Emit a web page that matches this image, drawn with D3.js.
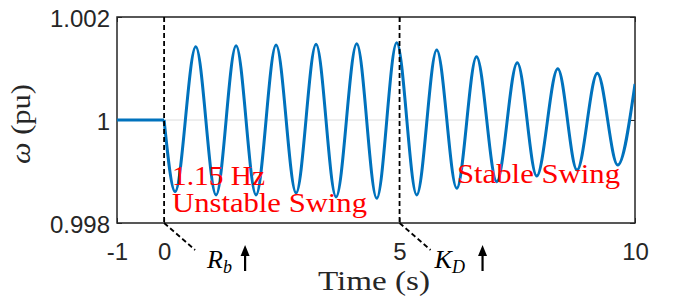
<!DOCTYPE html>
<html><head><meta charset="utf-8">
<script src="https://cdn.jsdelivr.net/npm/d3@7"></script>
<style>body{margin:0;background:#fff}svg{display:block}
.sans{font-family:"Liberation Sans",Arimo,Arial,Helvetica,sans-serif}
.serif{font-family:"Liberation Serif",Tinos,"Times New Roman","DejaVu Serif",serif}
</style>
</head><body>
<script>
// Extrema of the frequency trace (time in s, omega in pu)
const timeS = [-1, 0, 0.234, 0.673, 1.104, 1.529, 1.953, 2.378, 2.803, 3.227, 3.652, 4.091, 4.516, 4.94,
  5.365, 5.79, 6.215, 6.635, 7.064, 7.5, 7.913, 8.36, 8.769, 9.2, 9.633, 10];
const omega = [1, 1, 0.99861, 1.001423, 0.998544, 1.001443, 0.998544, 1.001456, 0.998583, 1.00147, 0.998505, 1.00148, 0.99848, 1.0015,
  0.998544, 1.001359, 0.998674, 1.001229, 0.998802, 1.001113, 0.998913, 1.000996, 0.999029, 1.000907, 0.999126, 1.0007];
const xTicks = [-1, 0, 5, 10];
const yTicks = [0.998, 1, 1.002];
const events = [0, 5];

const W = 679, H = 305;
const m = {l:117, r:44, t:17, b:82};
const svg = d3.select("body").append("svg").attr("width", W).attr("height", H);
const x = d3.scaleLinear().domain([-1, 10]).range([m.l, W - m.r]);
const y = d3.scaleLinear().domain([0.998, 1.002]).range([H - m.b, m.t]);

// grid
svg.append("g").selectAll("line").data(yTicks).join("line")
  .attr("x1", x(-1)).attr("x2", x(10)).attr("y1", d => y(d)).attr("y2", d => y(d))
  .attr("stroke", "#dcdcdc").attr("stroke-width", 1);

// axes
const gx = svg.append("g").attr("transform", `translate(0,${y(0.998)})`)
  .call(d3.axisBottom(x).tickValues(xTicks).tickSize(-5).tickPadding(20).tickFormat(d => String(d)));
const gy = svg.append("g").attr("transform", `translate(${x(-1)},0)`)
  .call(d3.axisLeft(y).tickValues(yTicks).tickSize(-5).tickPadding(7).tickFormat(d => d === 1 ? "1" : d3.format(".3f")(d)));
const gyr = svg.append("g").attr("transform", `translate(${x(10)},0)`)
  .call(d3.axisRight(y).tickValues(yTicks).tickSize(-5).tickFormat(""));
const gxt = svg.append("g").attr("transform", `translate(0,${y(1.002)})`)
  .call(d3.axisTop(x).tickValues(xTicks).tickSize(-5).tickFormat(""));
[gx, gy, gyr, gxt].forEach(g => {
  g.attr("font-family", null).attr("font-size", null);
  g.select(".domain").remove();
  g.selectAll("line").attr("stroke", "#262626");
  g.selectAll("text").attr("class", "sans").attr("fill", "#262626").style("font-size", "24px");
});
gy.selectAll("text").attr("dy", "0.38em");

// box
svg.append("rect").attr("x", x(-1)).attr("y", y(1.002)).attr("width", x(10) - x(-1)).attr("height", y(0.998) - y(1.002))
  .attr("fill", "none").attr("stroke", "#262626").attr("stroke-width", 1.5);

// trace
const pts = timeS.map((t, i) => [t, omega[i]]);
const line = d3.line().x(d => x(d[0])).y(d => y(d[1])).curve(d3.curveMonotoneX);
svg.append("clipPath").attr("id", "clip").append("rect")
  .attr("x", x(-1)).attr("y", y(1.002)).attr("width", x(10) - x(-1)).attr("height", y(0.998) - y(1.002));
const gt = svg.append("g").attr("clip-path", "url(#clip)");
gt.append("path").attr("d", line(pts.filter(p => p[0] <= 0)))
  .attr("fill", "none").attr("stroke", "#0072BD").attr("stroke-width", 3);
gt.append("path").attr("d", line(pts.filter(p => p[0] >= 0)))
  .attr("fill", "none").attr("stroke", "#0072BD").attr("stroke-width", 3).attr("stroke-linejoin", "round");

// event lines
events.forEach(e => {
  svg.append("line").attr("x1", x(e)).attr("x2", x(e)).attr("y1", y(1.002)).attr("y2", y(0.998))
    .attr("stroke", "#000").attr("stroke-width", 1.8).attr("stroke-dasharray", "5,3");
  svg.append("line").attr("x1", x(e)).attr("x2", x(e) + 31).attr("y1", y(0.998)).attr("y2", y(0.998) + 27)
    .attr("stroke", "#000").attr("stroke-width", 1.8).attr("stroke-dasharray", "5,3");
});

// arrows and parameter labels
[[x(0) + 81, "R", "b", x(0) + 43], [x(5) + 83, "K", "D", x(5) + 35]].forEach(([ax, main, sub, tx]) => {
  svg.append("line").attr("x1", ax).attr("x2", ax).attr("y1", 271).attr("y2", 254)
    .attr("stroke", "#000").attr("stroke-width", 2.2);
  svg.append("path").attr("d", `M${ax - 4.5},${256} L${ax},${245} L${ax + 4.5},${256} Z`).attr("fill", "#000");
  const t = svg.append("text").attr("class", "serif").attr("x", tx).attr("y", 268).style("font-style", "italic").style("font-size", "26px");
  t.append("tspan").text(main);
  t.append("tspan").attr("dy", 5).style("font-size", "18px").text(sub);
});

// axis labels
svg.append("text").attr("class", "serif").attr("x", 318).attr("y", 290)
  .attr("textLength", 112).attr("lengthAdjust", "spacingAndGlyphs")
  .style("font-size", "27px").attr("fill", "#262626").text("Time (s)");
const yl = svg.append("text").attr("class", "serif").attr("transform", "translate(30,164) rotate(-90)")
  .attr("textLength", 80).attr("lengthAdjust", "spacingAndGlyphs")
  .style("font-size", "27px").attr("fill", "#262626");
yl.append("tspan").style("font-style", "italic").text("ω");
yl.append("tspan").text(" (pu)");

// annotations
const red = "#ff0000";
const ann = (tx, ty, len, s) => svg.append("text").attr("class", "serif").attr("x", tx).attr("y", ty)
  .attr("textLength", len).attr("lengthAdjust", "spacingAndGlyphs")
  .style("font-size", "27px").attr("fill", red).text(s);
ann(172, 185, 93, "1.15 Hz");
ann(172, 212, 195, "Unstable Swing");
ann(457, 183, 163, "Stable Swing");
</script>
</body></html>
